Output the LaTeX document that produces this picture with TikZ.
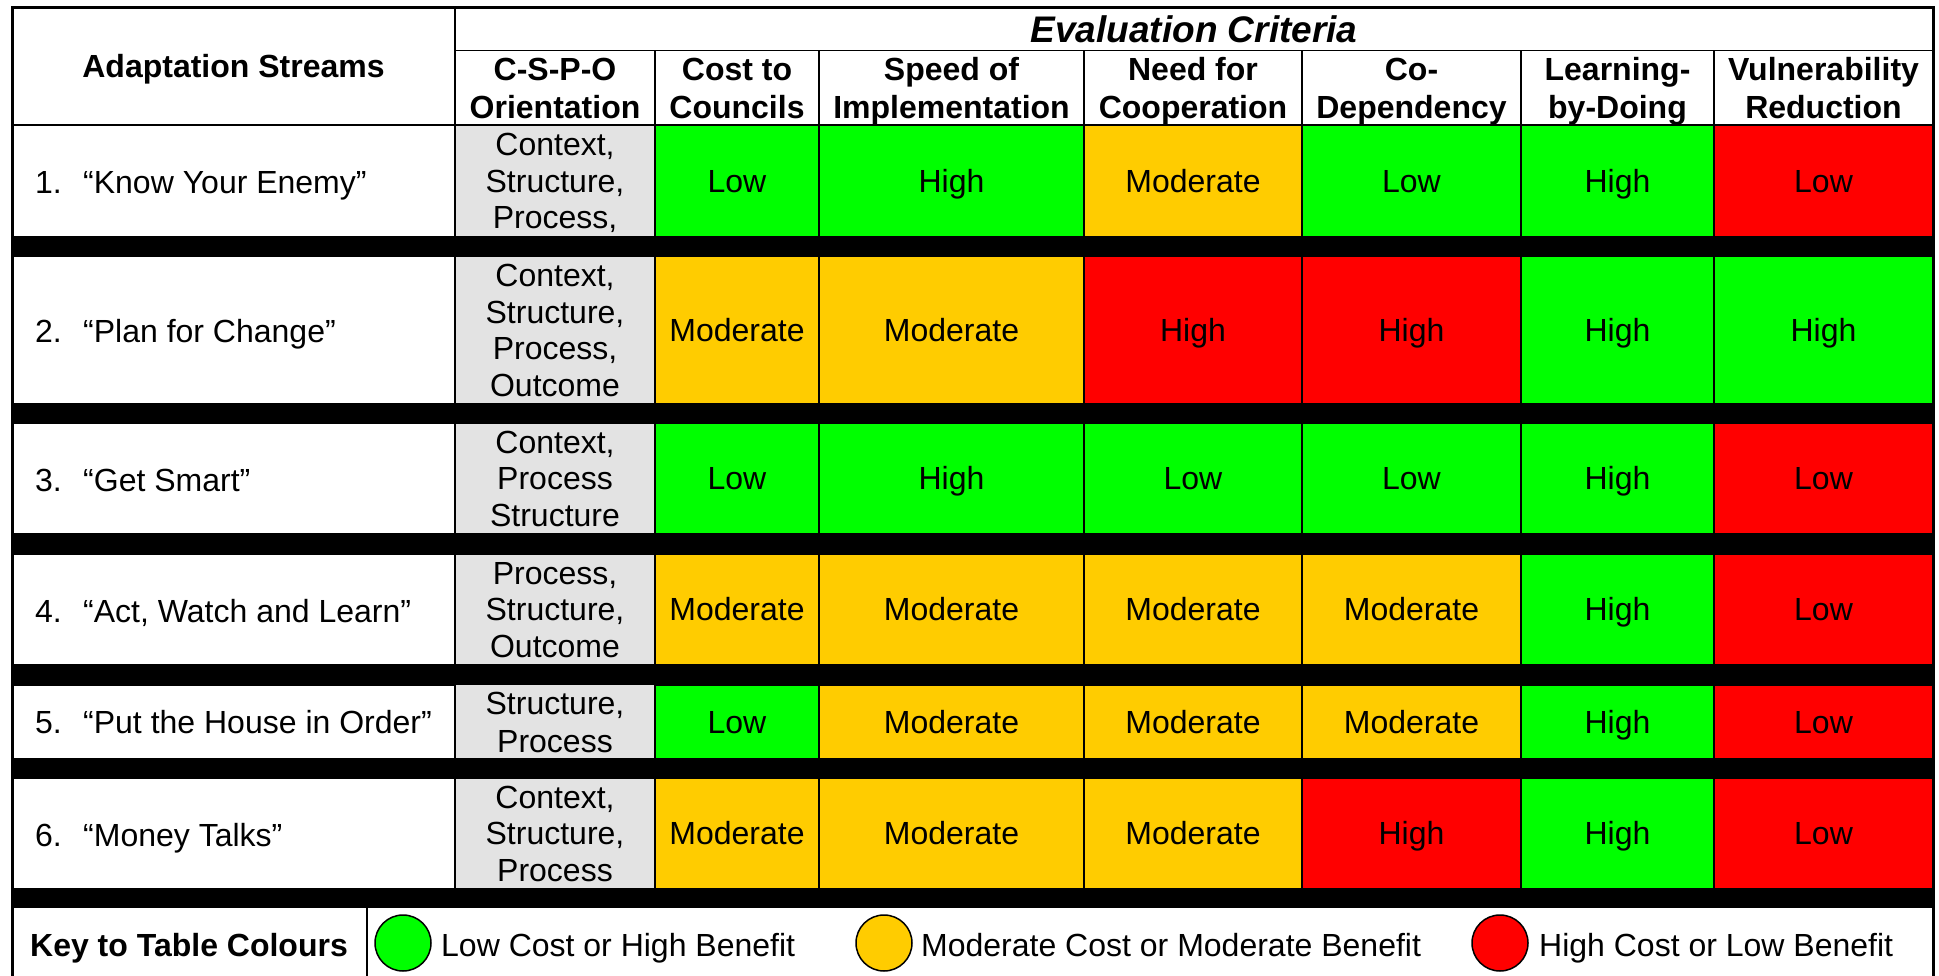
\documentclass[tikz,border=0pt]{standalone}
\usepackage{fontspec}
\setmainfont{Liberation Sans}
\definecolor{cg}{HTML}{00FF00}
\definecolor{cy}{HTML}{FFCC00}
\definecolor{cr}{HTML}{FF0000}
\definecolor{cgray}{HTML}{E3E3E3}
\newcommand\cs{\rule[-7pt]{0pt}{36.9pt}}
\newcommand\tcell[7]{\node[cellbox,#6,minimum width={(#4-#2)*1pt},minimum height={(#5-#3)*1pt}] (#1) at ({(#2+#4)/2},{(#3+#5)/2}) {\cs#7\cs};}
\newcommand\bcell[5]{\node[cellbox,band,minimum width={(#4-#2)*1pt},minimum height={(#5-#3)*1pt}] (#1) at ({(#2+#4)/2},{(#3+#5)/2}) {};}
\tikzset{
  cellbox/.style={draw=black, line width=1.5pt, inner sep=0pt, outer sep=0pt, align=center, font=\fontsize{32}{36.5}\selectfont},
  hdr/.style={fill=white, font=\bfseries\fontsize{32}{35.5}\selectfont},
  evh/.style={fill=white, font=\bfseries\itshape\fontsize{37}{40}\selectfont},
  G/.style={fill=cg}, Y/.style={fill=cy}, R/.style={fill=cr},
  gr/.style={fill=cgray}, W/.style={fill=white},
  band/.style={fill=black},
  lbl/.style={anchor=west, inner sep=0pt, font=\fontsize{32}{36.5}\selectfont},
  keydot/.style={circle, draw=black, line width=1.5pt, minimum size=56pt, inner sep=0pt},
  keytxt/.style={anchor=west, inner sep=0pt, font=\fontsize{32}{36.5}\selectfont},
}
\newcommand\rl[2]{\cs\makebox[48pt][l]{#1}#2}
\begin{document}
\begin{tikzpicture}[x=1pt,y=-1pt]
\useasboundingbox (0,0) rectangle (1939,976);
\fill[white] (0,0) rectangle (1939,976);
% header
\tcell{hAS}{12}{8}{455}{125}{hdr}{Adaptation Streams}
\node[cellbox,evh,minimum width=1478pt,minimum height=43pt] (hEC) at (1194,29.5) {Evaluation Criteria};
\tcell{h1}{455}{51}{655}{125}{hdr}{C-S-P-O\\Orientation}
\tcell{h2}{655}{51}{819}{125}{hdr}{Cost to\\Councils}
\tcell{h3}{819}{51}{1084}{125}{hdr}{Speed of\\Implementation}
\tcell{h4}{1084}{51}{1302}{125}{hdr}{Need for\\Cooperation}
\tcell{h5}{1302}{51}{1521}{125}{hdr}{Co-\\Dependency}
\tcell{h6}{1521}{51}{1714}{125}{hdr}{Learning-\\by-Doing}
\tcell{h7}{1714}{51}{1933}{125}{hdr}{Vulnerability\\Reduction}
% row 1
\tcell{r1c0}{12}{125}{455}{237}{W}{}
\tcell{r1c1}{455}{125}{655}{237}{gr}{Context,\\Structure,\\Process,}
\tcell{r1c2}{655}{125}{819}{237}{G}{Low}
\tcell{r1c3}{819}{125}{1084}{237}{G}{High}
\tcell{r1c4}{1084}{125}{1302}{237}{Y}{Moderate}
\tcell{r1c5}{1302}{125}{1521}{237}{G}{Low}
\tcell{r1c6}{1521}{125}{1714}{237}{G}{High}
\tcell{r1c7}{1714}{125}{1933}{237}{R}{Low}
\node[lbl] (l1) at (35,182) {\rl{1.}{“Know Your Enemy”}};
\bcell{b1}{12}{237}{1933}{256}
% row 2
\tcell{r2c0}{12}{256}{455}{404}{W}{}
\tcell{r2c1}{455}{256}{655}{404}{gr}{Context,\\Structure,\\Process,\\Outcome}
\tcell{r2c2}{655}{256}{819}{404}{Y}{Moderate}
\tcell{r2c3}{819}{256}{1084}{404}{Y}{Moderate}
\tcell{r2c4}{1084}{256}{1302}{404}{R}{High}
\tcell{r2c5}{1302}{256}{1521}{404}{R}{High}
\tcell{r2c6}{1521}{256}{1714}{404}{G}{High}
\tcell{r2c7}{1714}{256}{1933}{404}{G}{High}
\node[lbl] (l2) at (35,331) {\rl{2.}{“Plan for Change”}};
\bcell{b2}{12}{404}{1933}{423}
% row 3
\tcell{r3c0}{12}{423}{455}{534}{W}{}
\tcell{r3c1}{455}{423}{655}{534}{gr}{Context,\\Process\\Structure}
\tcell{r3c2}{655}{423}{819}{534}{G}{Low}
\tcell{r3c3}{819}{423}{1084}{534}{G}{High}
\tcell{r3c4}{1084}{423}{1302}{534}{G}{Low}
\tcell{r3c5}{1302}{423}{1521}{534}{G}{Low}
\tcell{r3c6}{1521}{423}{1714}{534}{G}{High}
\tcell{r3c7}{1714}{423}{1933}{534}{R}{Low}
\node[lbl] (l3) at (35,480) {\rl{3.}{“Get Smart”}};
\bcell{b3}{12}{534}{1933}{554}
% row 4
\tcell{r4c0}{12}{554}{455}{665}{W}{}
\tcell{r4c1}{455}{554}{655}{665}{gr}{Process,\\Structure,\\Outcome}
\tcell{r4c2}{655}{554}{819}{665}{Y}{Moderate}
\tcell{r4c3}{819}{554}{1084}{665}{Y}{Moderate}
\tcell{r4c4}{1084}{554}{1302}{665}{Y}{Moderate}
\tcell{r4c5}{1302}{554}{1521}{665}{Y}{Moderate}
\tcell{r4c6}{1521}{554}{1714}{665}{G}{High}
\tcell{r4c7}{1714}{554}{1933}{665}{R}{Low}
\node[lbl] (l4) at (35,611) {\rl{4.}{“Act, Watch and Learn”}};
\bcell{b4}{12}{665}{1933}{685}
% row 5
\tcell{r5c0}{12}{685}{455}{759}{W}{}
\tcell{r5c1}{455}{685}{655}{759}{gr}{Structure,\\Process}
\tcell{r5c2}{655}{685}{819}{759}{G}{Low}
\tcell{r5c3}{819}{685}{1084}{759}{Y}{Moderate}
\tcell{r5c4}{1084}{685}{1302}{759}{Y}{Moderate}
\tcell{r5c5}{1302}{685}{1521}{759}{Y}{Moderate}
\tcell{r5c6}{1521}{685}{1714}{759}{G}{High}
\tcell{r5c7}{1714}{685}{1933}{759}{R}{Low}
\node[lbl] (l5) at (35,722) {\rl{5.}{“Put the House in Order”}};
\bcell{b5}{12}{759}{1933}{778}
% row 6
\tcell{r6c0}{12}{778}{455}{889}{W}{}
\tcell{r6c1}{455}{778}{655}{889}{gr}{Context,\\Structure,\\Process}
\tcell{r6c2}{655}{778}{819}{889}{Y}{Moderate}
\tcell{r6c3}{819}{778}{1084}{889}{Y}{Moderate}
\tcell{r6c4}{1084}{778}{1302}{889}{Y}{Moderate}
\tcell{r6c5}{1302}{778}{1521}{889}{R}{High}
\tcell{r6c6}{1521}{778}{1714}{889}{G}{High}
\tcell{r6c7}{1714}{778}{1933}{889}{R}{Low}
\node[lbl] (l6) at (35,835) {\rl{6.}{“Money Talks”}};
\bcell{b6}{12}{889}{1933}{907}
% key row
\node[inner sep=0pt, font=\bfseries\fontsize{32}{36.5}\selectfont] (keyl) at (189,945) {\cs Key to Table Colours};
\coordinate (kdtop) at (367,907);
\coordinate (kdbot) at (367,976);
\draw[line width=1.5pt] (kdtop) -- (kdbot);
\node[keydot, fill=cg] (kg) at (403,943) {};
\node[keytxt] (kgt) at (441,945) {\cs Low Cost or High Benefit};
\node[keydot, fill=cy] (ky) at (884,943) {};
\node[keytxt] (kyt) at (921,945) {\cs Moderate Cost or Moderate Benefit};
\node[keydot, fill=cr] (kr) at (1500,943) {};
\node[keytxt] (krt) at (1539,945) {\cs High Cost or Low Benefit};
% outer frame
\draw[line width=3pt] (12,976) -- (12,8) -- (1933,8) -- (1933,976);
\end{tikzpicture}
\end{document}
